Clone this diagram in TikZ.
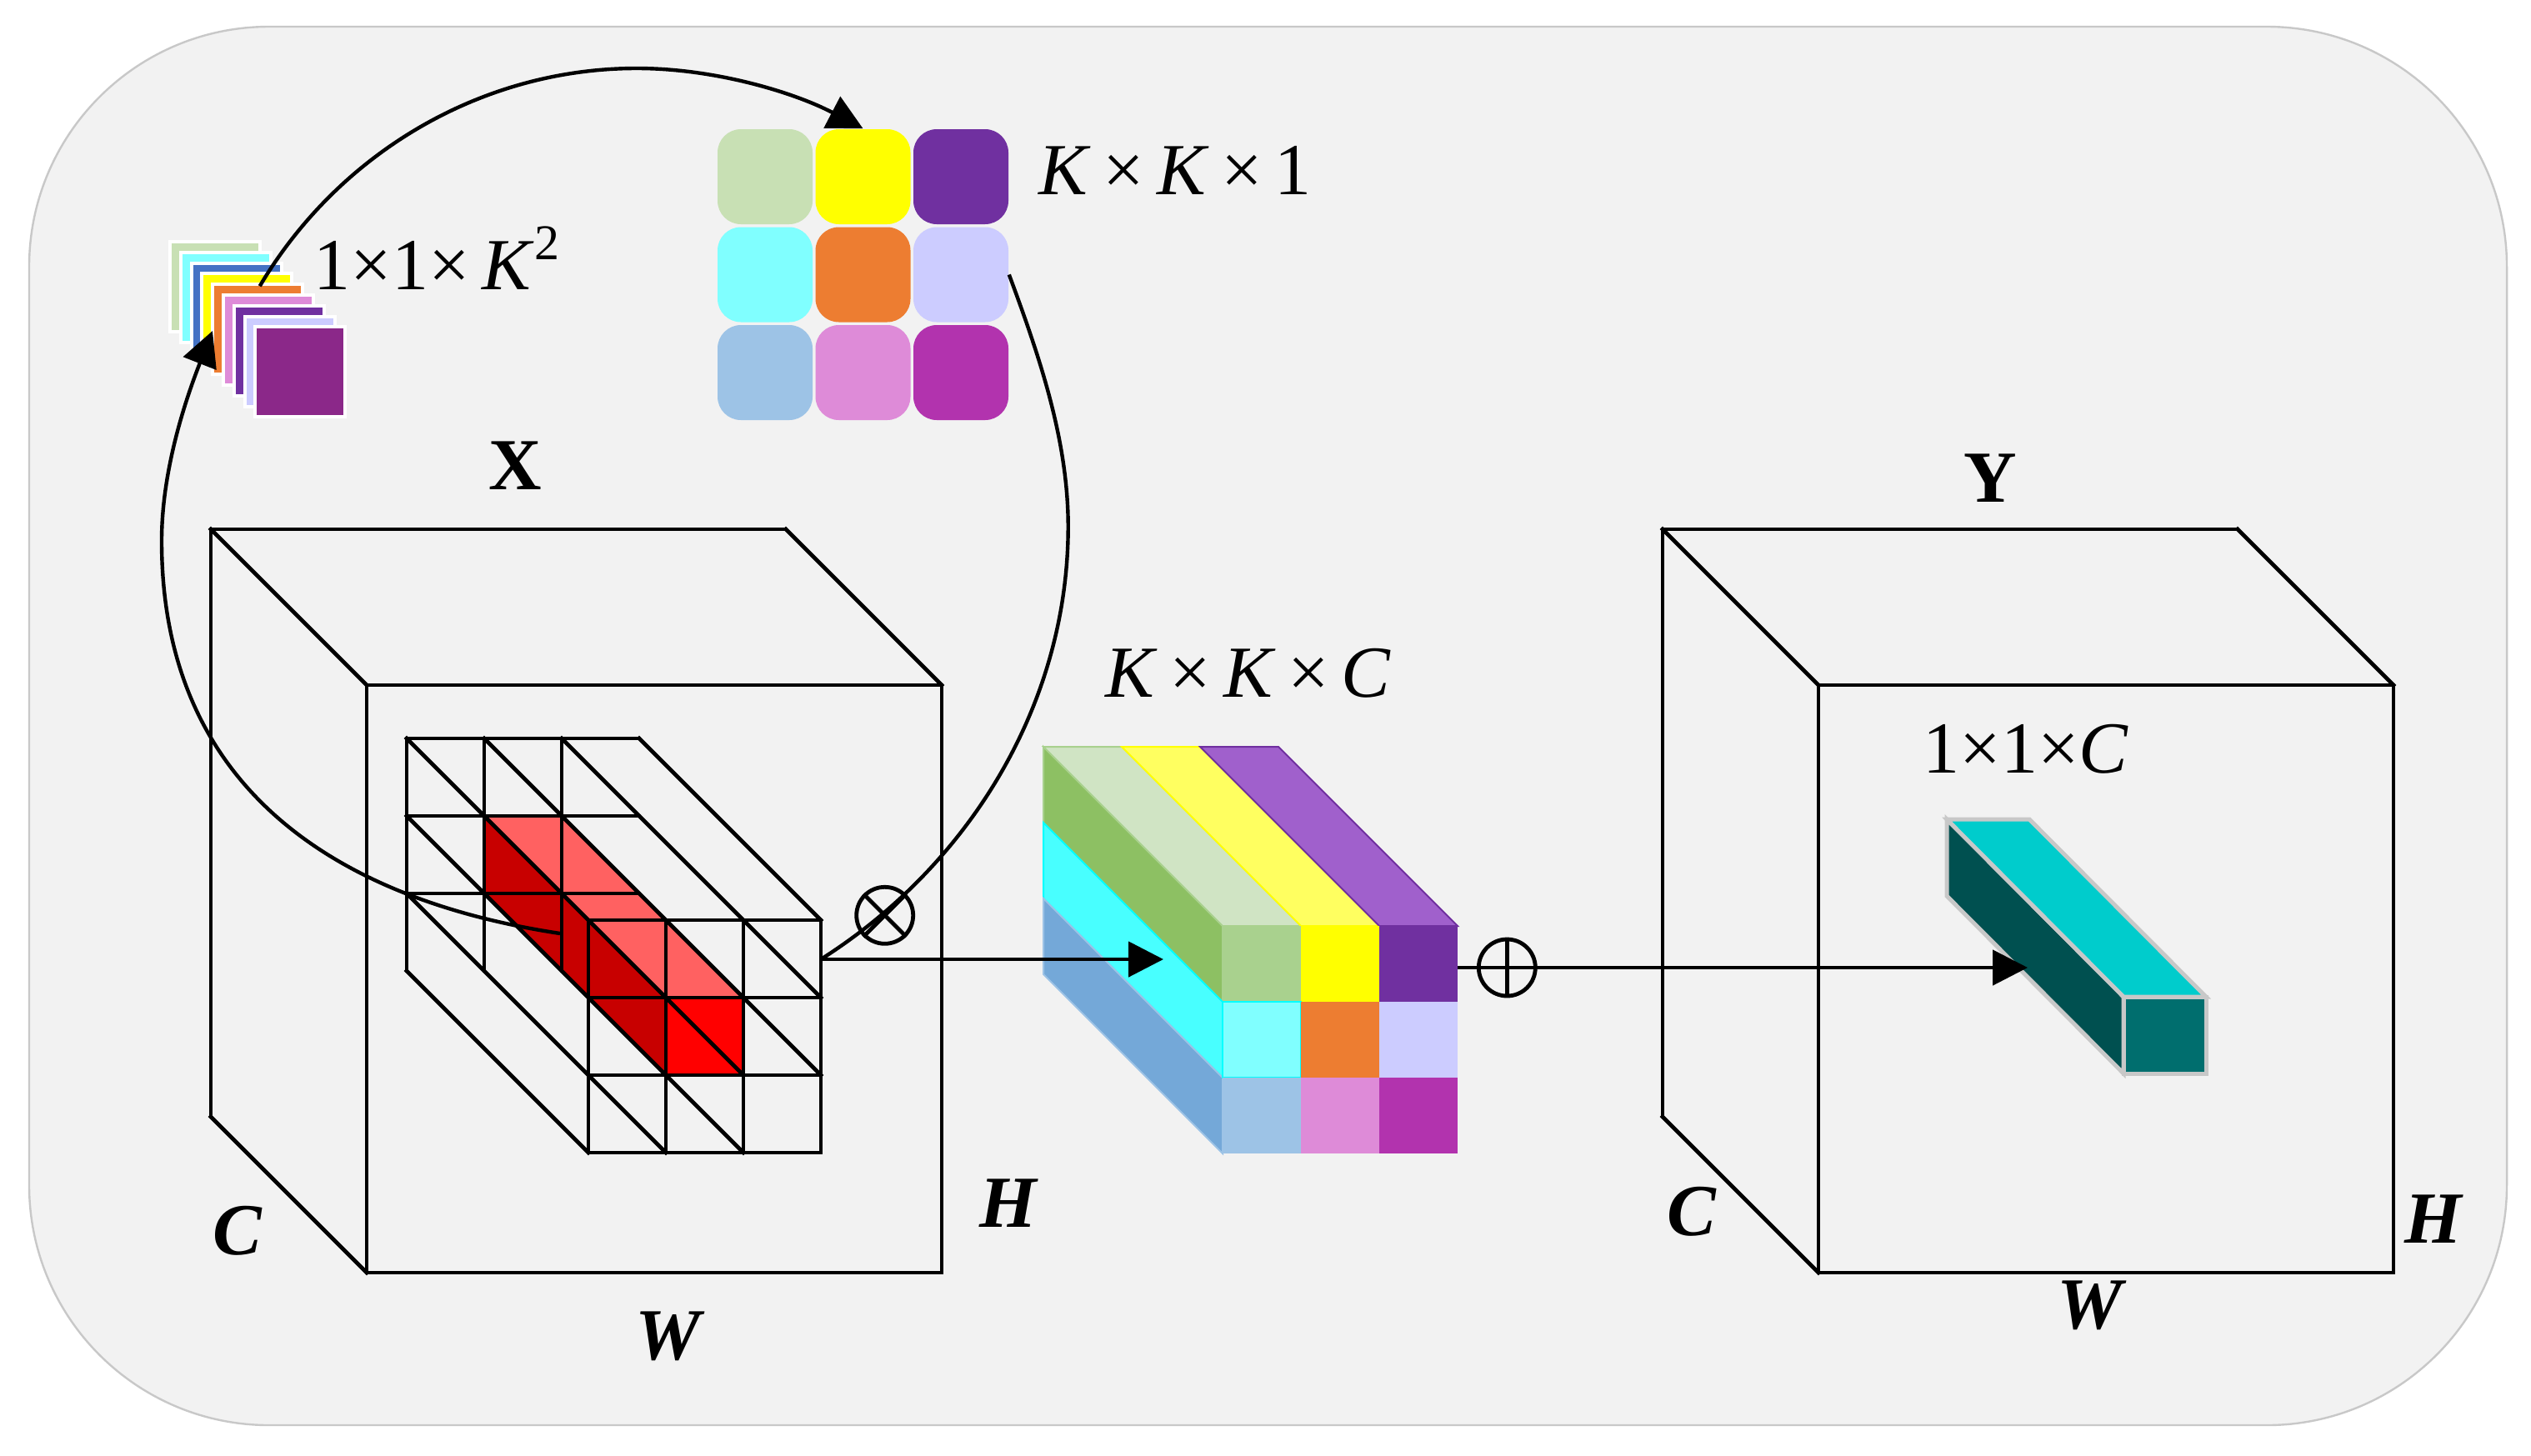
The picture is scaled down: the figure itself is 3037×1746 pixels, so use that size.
\documentclass[tikz,border=0pt]{standalone}
\usepackage{fontspec}
\setmainfont{Liberation Serif}
\usetikzlibrary{arrows.meta}

\definecolor{bgfill}{HTML}{F2F2F2}
\definecolor{bgline}{HTML}{C8C8C8}
\definecolor{redlight}{HTML}{FF6161}
\definecolor{reddark}{HTML}{C80000}
\definecolor{redfull}{HTML}{FF0000}
\definecolor{kgreen}{HTML}{C8E0B4}
\definecolor{kyellow}{HTML}{FFFF00}
\definecolor{kpurple}{HTML}{7030A0}
\definecolor{kcyan}{HTML}{80FFFF}
\definecolor{korange}{HTML}{ED7D31}
\definecolor{klav}{HTML}{CCCCFF}
\definecolor{kblue}{HTML}{9DC3E6}
\definecolor{kpink}{HTML}{DE8BD8}
\definecolor{kmag}{HTML}{B233AE}
\definecolor{sblue}{HTML}{4472C4}
\definecolor{smag}{HTML}{8B2889}
\definecolor{mgreentop}{HTML}{D0E4C4}
\definecolor{mgreenleft}{HTML}{8DC063}
\definecolor{mgreenfront}{HTML}{A9D18E}
\definecolor{myellowtop}{HTML}{FFFF60}
\definecolor{mpurpletop}{HTML}{A060CC}
\definecolor{mcyanleft}{HTML}{48FFFF}
\definecolor{mcyanline}{HTML}{00FFFF}
\definecolor{mblueleft}{HTML}{74A8D8}
\definecolor{tealtop}{HTML}{00CCCC}
\definecolor{tealleft}{HTML}{005050}
\definecolor{tealfront}{HTML}{006E6E}

\begin{document}
\begin{tikzpicture}[x=0.25pt,y=0.25pt,yscale=-1,xscale=1,
    lbl/.style={font=\fontsize{22}{26}\selectfont, inner sep=0pt},
    wire/.style={line width=1.2pt, line cap=rect, line join=miter},
    stackbox/.style={draw=white, line width=1pt, minimum size=27pt, inner sep=0pt},
    kcell/.style={rounded corners=7pt, minimum size=28.5pt, inner sep=0pt},
    face/.style={line width=0.5pt, line join=miter},
    barface/.style={draw=bgline, line width=1.25pt, line join=miter},
    opcirc/.style={circle, draw, line width=1.2pt, minimum size=17pt, inner sep=0pt},
    curvearrow/.style={line width=1.1pt, -{Triangle[length=10.5pt,width=10.5pt]}},
    curveline/.style={line width=1.1pt},
    arrowline/.style={line width=1.2pt, -{Triangle[length=10.5pt,width=10.5pt]}}]
        \useasboundingbox (0,0) rectangle (3037,1746);
        \fill[white] (0,0) rectangle (3037,1746);
        %Rounded Rect
        \draw[bgline, fill=bgfill, line width=0.6pt, rounded corners=72pt] (35,32) rectangle (3008,1710);

        %Stack of 1x1 kernels
        \node[stackbox, fill=kgreen] (s1) at (258,344) {};
        \node[stackbox, fill=kcyan] (s2) at (270.8,356.8) {};
        \node[stackbox, fill=sblue] (s3) at (283.6,369.6) {};
        \node[stackbox, fill=kyellow] (s4) at (296.4,382.4) {};
        \node[stackbox, fill=korange] (s5) at (309.2,395.2) {};
        \node[stackbox, fill=kpink] (s6) at (322,408) {};
        \node[stackbox, fill=kpurple] (s7) at (334.8,420.8) {};
        \node[stackbox, fill=klav] (s8) at (347.6,433.6) {};
        \node[stackbox, fill=smag] (s9) at (360.4,446.4) {};

        %KxK kernel
        \node[kcell, fill=kgreen] (k11) at (918,212) {};
        \node[kcell, fill=kyellow] (k12) at (1035.5,212) {};
        \node[kcell, fill=kpurple] (k13) at (1153,212) {};
        \node[kcell, fill=kcyan] (k21) at (918,329.5) {};
        \node[kcell, fill=korange] (k22) at (1035.5,329.5) {};
        \node[kcell, fill=klav] (k23) at (1153,329.5) {};
        \node[kcell, fill=kblue] (k31) at (918,447) {};
        \node[kcell, fill=kpink] (k32) at (1035.5,447) {};
        \node[kcell, fill=kmag] (k33) at (1153,447) {};

        %Cube X
        \draw[wire] (253,635) -- (943,635) ;
        \draw[wire] (253,635) -- (253,1340) ;
        \draw[wire] (253,635) -- (440,822) ;
        \draw[wire] (943,635) -- (1130,822) ;
        \draw[wire] (253,1340) -- (440,1527) ;
        \draw[wire] (440,822) rectangle (1130,1527) ;

        %Window fills
        \fill[redlight] (581,979) -- (674,979) -- (892,1197) -- (799,1197) -- cycle ;
        \fill[reddark] (581,979) -- (799,1197) -- (799,1290) -- (581,1072) -- cycle ;
        \fill[redfull] (799,1197) rectangle (892,1290) ;
        %Window back lines
        \draw[wire] (488,886) -- (767,886) ;
        \draw[wire] (488,979) -- (767,979) ;
        \draw[wire] (488,1072) -- (767,1072) ;
        \draw[wire] (488,886) -- (488,1165) ;
        \draw[wire] (581,886) -- (581,1165) ;
        \draw[wire] (674,886) -- (674,1165) ;
        %Window depth lines
        \draw[wire] (767,886) -- (985,1104) ;
        \draw[wire] (674,886) -- (985,1197) ;
        \draw[wire] (581,886) -- (985,1290) ;
        \draw[wire] (488,886) -- (892,1290) ;
        \draw[wire] (488,979) -- (892,1383) ;
        \draw[wire] (488,1072) -- (799,1383) ;
        \draw[wire] (488,1165) -- (706,1383) ;
        %Window front lines
        \draw[wire] (706,1104) rectangle (985,1383) ;
        \draw[wire] (799,1104) -- (799,1383) ;
        \draw[wire] (892,1104) -- (892,1383) ;
        \draw[wire] (706,1197) -- (985,1197) ;
        \draw[wire] (706,1290) -- (985,1290) ;

        %KxKxC block
        \draw[face, draw=mgreenfront, fill=mgreenleft] (1252,896) -- (1467,1111) -- (1467,1202) -- (1252,987) -- cycle ;
        \draw[face, draw=mcyanline, fill=mcyanleft] (1252,987) -- (1467,1202) -- (1467,1293) -- (1252,1078) -- cycle ;
        \draw[face, draw=kblue, fill=mblueleft] (1252,1078) -- (1467,1293) -- (1467,1384) -- (1252,1169) -- cycle ;
        \draw[face, draw=mgreenfront, fill=mgreentop] (1252,896) -- (1346,896) -- (1561,1111) -- (1467,1111) -- cycle ;
        \draw[face, draw=kyellow, fill=myellowtop] (1346,896) -- (1440,896) -- (1655,1111) -- (1561,1111) -- cycle ;
        \draw[face, draw=kpurple, fill=mpurpletop] (1440,896) -- (1534,896) -- (1749,1111) -- (1655,1111) -- cycle ;
        \fill[mgreenfront] (1467,1111) rectangle (1561,1202) ;
        \fill[kyellow] (1561,1111) rectangle (1655,1202) ;
        \fill[kpurple] (1655,1111) rectangle (1749,1202) ;
        \draw[face, draw=mcyanline, fill=kcyan] (1467,1202) rectangle (1561,1293) ;
        \fill[korange] (1561,1202) rectangle (1655,1293) ;
        \fill[klav] (1655,1202) rectangle (1749,1293) ;
        \fill[kblue] (1467,1293) rectangle (1561,1384) ;
        \fill[kpink] (1561,1293) rectangle (1655,1384) ;
        \fill[kmag] (1655,1293) rectangle (1749,1384) ;

        %Cube Y
        \draw[wire] (1995,635) -- (2685,635) ;
        \draw[wire] (1995,635) -- (1995,1340) ;
        \draw[wire] (1995,635) -- (2182,822) ;
        \draw[wire] (2685,635) -- (2872,822) ;
        \draw[wire] (1995,1340) -- (2182,1527) ;
        \draw[wire] (2182,822) rectangle (2872,1527) ;

        %1x1xC bar
        \draw[barface, fill=tealleft] (2336,983) -- (2548,1196) -- (2548,1288) -- (2336,1075) -- cycle ;
        \draw[barface, fill=tealtop] (2336,983) -- (2435,983) -- (2647,1196) -- (2548,1196) -- cycle ;
        \draw[barface, fill=tealfront] (2548,1196) rectangle (2647,1288) ;

        %Connector end points
        \coordinate (gridin) at (672,1120) ;
        \coordinate (gridout) at (985,1151) ;
        \coordinate (stackin) at (255,397) ;
        \coordinate (stackout) at (311.7,343.3) ;
        \coordinate (midin) at (1396,1151) ;
        \coordinate (midout) at (1749,1161) ;
        \coordinate (barin) at (2433,1161) ;

        %Curve Lines
        \draw[curvearrow] (gridin) .. controls (395,1078) and (194,939) .. (194,649) .. controls (194,563) and (223.6,477) .. (stackin) ;
        \draw[curvearrow] (stackout) .. controls (406.6,183.3) and (578,82) .. (764,82) .. controls (858,82) and (953,111) .. (k12.north) ;
        \draw[curveline] (k23.east) .. controls (1246,424.6) and (1281.7,526.6) .. (1281.7,631.6) .. controls (1281.7,843.6) and (1164.3,1037.2) .. (gridout) ;

        %Operators
        \node[opcirc] (mult) at (1061.7,1098.3) {};
        \draw[line width=1.2pt] (mult.north west) -- (mult.south east) ;
        \draw[line width=1.2pt] (mult.north east) -- (mult.south west) ;
        \node[opcirc] (add) at (1808.3,1161) {};
        \draw[line width=1.2pt] (add.north) -- (add.south) ;

        %Straight Arrows
        \draw[arrowline] (gridout) -- (midin) ;
        \draw[arrowline] (midout) -- (barin) ;

        %Labels
        \node[lbl, anchor=base] (dimstack) at (524,347) {1×1×\,\textit{K}\raisebox{9pt}{\fontsize{15}{15}\selectfont 2}};
        \node[lbl, anchor=base] (dimkern) at (1410,233) {\textit{K}\,×\,\textit{K}\,×\,1};
        \node[lbl, anchor=base] (dimmid) at (1498,836) {\textit{K}\,×\,\textit{K}\,×\,\textit{C}};
        \node[lbl, anchor=base] (dimbar) at (2431,927) {1×1×\textit{C}};
        \node[lbl, anchor=base] (lblX) at (618,587) {\textbf{X}};
        \node[lbl, anchor=base] (lblY) at (2388,602) {\textbf{Y}};
        \node[lbl, anchor=base] (lblCX) at (285,1505) {\textbf{\textit{C}}};
        \node[lbl, anchor=base] (lblHX) at (1211,1472) {\textbf{\textit{H}}};
        \node[lbl, anchor=base] (lblWX) at (804,1631) {\textbf{\textit{W}}};
        \node[lbl, anchor=base] (lblCY) at (2030,1482) {\textbf{\textit{C}}};
        \node[lbl, anchor=base] (lblHY) at (2921,1491) {\textbf{\textit{H}}};
        \node[lbl, anchor=base] (lblWY) at (2510,1594) {\textbf{\textit{W}}};
\end{tikzpicture}
\end{document}
